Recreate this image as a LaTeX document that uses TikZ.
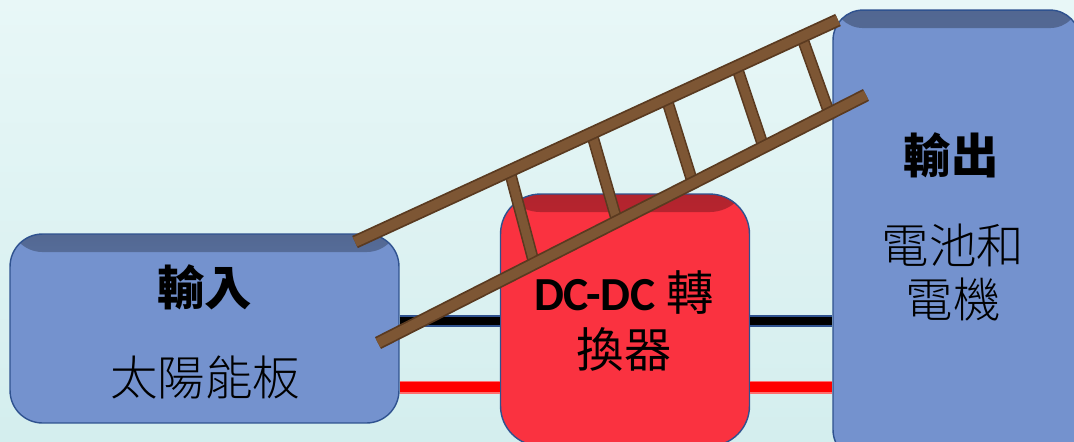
\documentclass[tikz,border=0pt]{standalone}
\usepackage{fontspec}
\setmainfont{Carlito}
\newfontfamily\cjk{Noto Sans CJK TC}
\newfontfamily\cjklight{Noto Sans CJK TC}[UprightFont={* Light}]
\usetikzlibrary{calc}

\definecolor{panelblue}{RGB}{116,146,206}
\definecolor{paneledge}{RGB}{47,82,143}
\definecolor{convred}{RGB}{250,50,64}
\definecolor{wirepink}{RGB}{255,110,110}
\definecolor{wood}{RGB}{125,86,52}
\definecolor{wooddark}{RGB}{90,58,32}
\definecolor{skytop}{RGB}{232,247,247}
\definecolor{skybottom}{RGB}{212,238,238}

\tikzset{
  panel/.style={draw=paneledge, line width=0.8pt, fill=#1, inner sep=0pt,
    path picture={\shade[top color=#1!70!black, bottom color=#1]
      ([yshift=0.15cm]path picture bounding box.north west) rectangle ([yshift=-0.36cm]path picture bounding box.north east);}},
  blackwire/.style={draw=paneledge, line width=1.1pt, double=black, double distance=4.6pt},
  redwire/.style={draw=wirepink, line width=0.9pt, double=red, double distance=5.6pt},
  rail/.style={draw=wooddark, line width=1pt, double=wood, double distance=5.6pt},
  rung/.style={draw=wooddark, line width=0.9pt, double=wood, double distance=5pt},
  label/.style={inner sep=0pt, font=\fontsize{27}{33}\selectfont\cjk}
}

\begin{document}
\begin{tikzpicture}[x=0.02cm, y=-0.02cm]
\useasboundingbox (0,0) rectangle (1074,441);
\clip (0,0) rectangle (1074,441);
\shade[top color=skytop, bottom color=skybottom] (0,0) rectangle (1074,441);

% the three blocks
\node[panel=panelblue, rounded corners=0.65cm, minimum width=7.78cm, minimum height=3.78cm] (in) at (204.5,328.5) {};
\node[panel=convred, rounded corners=0.8cm, minimum width=4.98cm, minimum height=5.04cm] (conv) at (625,320) {};
\node[panel=panelblue, rounded corners=0.6cm, minimum width=4.94cm, minimum height=9cm] (out) at (956.5,235) {};

% wires
\coordinate (wb) at (0,321);
\coordinate (wr) at (0,387);
\draw[blackwire] (in.east |- wb) -- (conv.west |- wb);
\draw[blackwire] (conv.east |- wb) -- (out.west |- wb);
\draw[redwire] (in.east |- wr) -- (conv.west |- wr);
\draw[redwire] (conv.east |- wr) -- (out.west |- wr);

% ladder
\coordinate (ua) at (355,242);
\coordinate (ub) at (838,20);
\coordinate (la) at (378,343);
\coordinate (lb) at (866,95);
\draw[rung] ($(ua)!0.32!(ub)$) -- ($(la)!0.32!(lb)$);
\draw[rung] ($(ua)!0.49!(ub)$) -- ($(la)!0.49!(lb)$);
\draw[rung] ($(ua)!0.645!(ub)$) -- ($(la)!0.645!(lb)$);
\draw[rung] ($(ua)!0.79!(ub)$) -- ($(la)!0.79!(lb)$);
\draw[rung] ($(ua)!0.925!(ub)$) -- ($(la)!0.925!(lb)$);
\draw[rail] (ua) -- (ub);
\draw[rail] (la) -- (lb);

% texts
\node[label, font=\fontsize{27}{33}\selectfont\cjk\bfseries] (in-title) at (204.5,287) {輸入};
\node[label, font=\fontsize{27}{33}\selectfont\cjklight] (in-text) at (205,377) {太陽能板};
\node[label, align=center] (conv-text) at (624,321) {{\rmfamily\bfseries DC-DC} 轉\\換器};
\node[label, font=\fontsize{27}{33}\selectfont\cjk\bfseries] (out-title) at (951,155) {輸出};
\node[label, align=center, font=\fontsize{27}{31}\selectfont\cjklight] (out-text) at (953,272.5) {電池和\\電機};
\end{tikzpicture}
\end{document}
